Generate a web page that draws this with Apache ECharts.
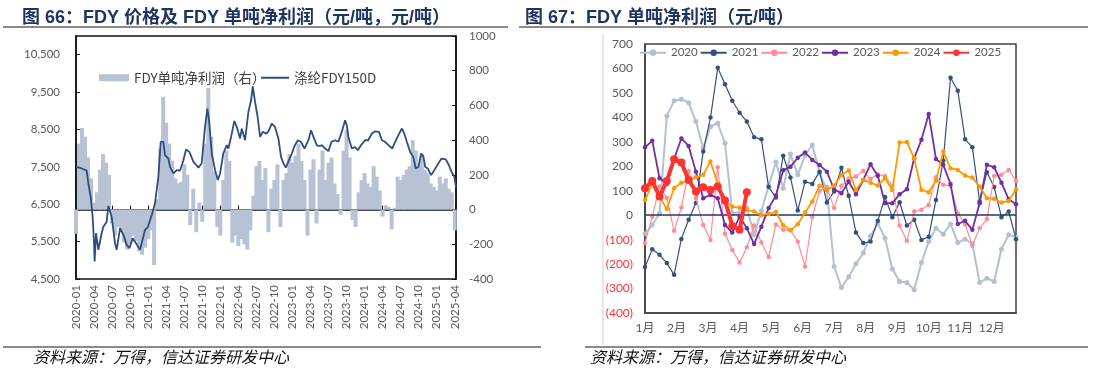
<!DOCTYPE html>
<html><head><meta charset="utf-8">
<script src="https://cdn.jsdelivr.net/npm/echarts@6/dist/echarts.min.js"></script>
<style>html,body{margin:0;padding:0;background:#fff}#c{width:1094px;height:370px}</style>
</head><body><div id="c"></div>
<script>
// ---------- Left chart data (months since 2020-01) ----------
const quarterLabels = ['2020-01','2020-04','2020-07','2020-10','2021-01','2021-04','2021-07','2021-10',
  '2022-01','2022-04','2022-07','2022-10','2023-01','2023-04','2023-07','2023-10',
  '2024-01','2024-04','2024-07','2024-10','2025-01','2025-04'];
const priceT = [0,0.5,0.95,1.78,2.05,2.44,2.77,3.0,3.1,3.33,3.72,4.27,4.55,5.1,5.38,5.93,6.49,6.76,7.32,7.88,
  8.43,8.88,9.43,9.98,10.65,10.93,11.48,11.92,12.6,13.14,13.7,14.09,14.53,14.8,15.36,15.64,16.19,16.75,17.3,17.85,
  18.3,18.85,19.52,20.0,20.35,20.9,21.46,21.85,22.13,22.58,23.13,23.58,23.96,24.5,25.07,25.34,25.79,26.34,26.74,27.29,
  27.57,28.12,28.67,29.12,29.4,29.78,30.17,30.62,31.06,31.73,32.1,32.56,33.1,33.66,34.1,34.5,34.9,35.3,35.9,36.4,
  36.9,37.4,38.0,38.65,39.1,39.5,40.05,40.5,40.9,41.43,41.98,42.5,43.1,43.64,44.2,44.76,45.04,45.3,45.87,46.4,
  46.87,47.4,48.1,48.6,49.2,49.75,50.4,50.87,51.4,51.96,52.6,53.08,53.6,54.2,54.6,55.02,55.57,56.1,56.5,56.95,
  57.4,57.8,58.07,58.5,59.07,59.6,60.3,60.8,61.5,62.0,62.5,62.9,63.2];
const priceV = [7500,7480,7457,7400,7057,6700,6167,5457,4967,5730,5280,5730,5900,6033,6450,6167,5457,5280,5857,5680,
  5413,5325,5590,5457,5280,5236,5812,5880,6212,6524,7233,8167,8167,7812,7723,7500,7323,7412,7400,7670,
  7964,7900,7640,7550,7480,7590,8567,9057,8745,7857,7412,7145,7323,7857,8080,7990,8300,8727,8567,8260,
  8525,8212,8967,9280,9652,9235,8880,8300,8435,8390,8480,8657,8567,8260,7767,7590,7480,7640,7857,8080,
  8212,8170,7990,8212,8480,8300,8080,8050,8080,7990,7920,8170,8212,8170,8435,8745,8610,8300,7990,8030,
  7945,8080,8212,8212,8390,8450,8435,8212,8170,8080,7990,8170,8340,8525,8390,8170,7900,7767,7457,7500,
  7857,7767,7500,7457,7280,7412,7600,7720,7700,7550,7350,7250,6950];
// FDY net profit, half-month steps starting 2020-01
const profitV = [
  -140,380,470,420,300,180,40,100,230,320,270,200,-80,-150,-100,-130,-190,-230,-200,-150,-180,-240,-260,-220,
  -170,-120,-320,60,350,650,500,380,280,180,150,160,260,200,-90,120,-130,40,-70,380,700,420,220,-100,
  -150,170,340,280,-190,-150,-210,-170,-200,-230,-120,80,250,280,170,240,-130,120,170,260,-100,170,210,320,
  270,310,380,280,170,-150,230,290,-80,230,340,170,270,300,150,90,-30,340,460,300,-60,-100,100,170,
  210,150,130,250,190,110,-40,25,15,-115,10,190,170,200,230,250,400,340,250,320,230,210,150,130,
  110,190,150,180,120,100,-120];

// ---------- Right chart data (weekly) ----------
const monthLabels = ['1月','2月','3月','4月','5月','6月','7月','8月','9月','10月','11月','12月'];
const years = ['2020','2021','2022','2023','2024','2025'];
const y2020 = [-76,-40,8,406,468,474,460,383,275,362,376,294,8,10,30,-80,18,120,217,110,250,165,245,287,172,103,
  -210,-296,-253,-199,-155,-85,-33,-94,-220,-271,-275,-305,-194,-108,-53,-78,-36,-112,-98,-117,-275,-258,-271,-139,-80,-90];
const y2021 = [-212,-139,-162,-196,-244,-97,-19,50,260,399,603,535,468,419,383,319,310,115,72,243,154,19,137,128,178,52,
  97,194,79,-71,-114,-108,-23,74,-8,53,-42,-19,-101,-88,62,223,562,509,310,278,56,176,115,-8,15,-98];
const y2022 = [-114,-6,117,70,-64,31,181,69,-40,-101,196,-76,-142,-194,-131,-42,-112,-171,-38,-60,-62,-108,-210,-7,100,115,
  29,120,150,158,181,148,167,160,120,-42,-105,15,22,42,155,124,120,8,-37,-125,-53,-16,160,165,185,141];
const y2023 = [278,304,151,127,230,314,283,178,69,83,69,-40,-71,-6,-53,-118,-47,29,80,184,198,235,256,226,205,178,
  105,90,137,86,144,208,161,49,49,86,106,233,308,414,230,206,128,-36,-23,-60,49,206,196,133,65,45];
const y2024 = [62,128,75,25,110,133,140,155,165,220,128,60,35,30,22,15,1,5,13,-41,-61,-37,11,56,120,103,
  120,164,183,103,144,133,121,151,103,297,299,233,103,94,141,260,192,185,162,154,117,69,67,52,58,106];
const y2025 = [110,140,76,140,229,215,144,97,114,103,117,60,-44,-60,94];

const yearSeries = [y2020,y2021,y2022,y2023,y2024,y2025];
const yearColors = ['#b4c0d2','#34507e','#ff8c96','#7030a0','#ff9900','#ff3333'];
const yearWidths = [2,1.2,1.2,1.8,1.8,4];
const yearSymbols = [5,4.5,4.5,4.5,4.5,8];

const NUM = "Lato, 'Noto Sans CJK SC', sans-serif";
const CJK = "'Noto Sans CJK SC', sans-serif";
const TITLE = "'Liberation Sans', 'Noto Sans CJK SC', sans-serif";

const chart = echarts.init(document.getElementById('c'));

const rightSeries = years.map((name, k) => ({
  name, type: 'line', xAxisIndex: 1, yAxisIndex: 2,
  data: yearSeries[k].map((v, i) => [i, v]),
  symbol: 'circle', symbolSize: yearSymbols[k], showSymbol: true,
  lineStyle: {width: yearWidths[k], color: yearColors[k]},
  itemStyle: {color: yearColors[k]},
  emphasis: {disabled: true},
  z: 2 + k,
  markLine: k === 0 ? {silent: true, symbol: 'none', label: {show: false},
    lineStyle: {color: '#1f3864', width: 1.5, type: 'solid'}, data: [{yAxis: 0}]} : undefined
}));

const option = {
  animation: false,
  title: [
    {text: '图 66：FDY 价格及 FDY 单吨净利润（元/吨，元/吨）', left: 17, top: 4,
      textStyle: {fontFamily: TITLE, fontWeight: 'bold', fontSize: 18, color: '#1f3460'}},
    {text: '图 67：FDY 单吨净利润（元/吨）', left: 520, top: 4,
      textStyle: {fontFamily: TITLE, fontWeight: 'bold', fontSize: 18, color: '#1f3460'}}
  ],
  graphic: [
    {type: 'line', shape: {x1: 3, y1: 27, x2: 508, y2: 27}, style: {stroke: '#8a8a8a', lineWidth: 2}},
    {type: 'line', shape: {x1: 519, y1: 27, x2: 1088, y2: 27}, style: {stroke: '#8a8a8a', lineWidth: 2}},
    {type: 'line', shape: {x1: 3, y1: 347, x2: 541, y2: 347}, style: {stroke: '#8a8a8a', lineWidth: 2}},
    {type: 'line', shape: {x1: 585, y1: 347, x2: 1088, y2: 347}, style: {stroke: '#8a8a8a', lineWidth: 2}},
    {type: 'line', shape: {x1: 603, y1: 33, x2: 603, y2: 345}, style: {stroke: '#d0d0d0', lineWidth: 1}},
    {type: 'text', left: 33, top: 349, style: {text: '资料来源：万得，信达证券研发中心', font: 'italic 16px ' + CJK, fill: '#111'}},
    {type: 'text', left: 590, top: 349, style: {text: '资料来源：万得，信达证券研发中心', font: 'italic 16px ' + CJK, fill: '#111'}}
  ],
  legend: [
    {left: 94, top: 66, itemWidth: 30, itemHeight: 7, itemGap: 6,
      data: [{name: 'FDY单吨净利润（右）', icon: 'rect'}],
      textStyle: {fontFamily: CJK, fontSize: 13.5, color: '#404040'}},
    {left: 256, top: 66, itemWidth: 28, itemHeight: 2, itemGap: 6,
      data: [{name: '涤纶FDY150D', icon: 'rect'}],
      textStyle: {fontFamily: CJK, fontSize: 13.5, color: '#404040'}},
    {left: 634, top: 42, itemWidth: 26, itemHeight: 8, itemGap: 2,
      data: years, textStyle: {fontFamily: NUM, fontSize: 11.5, color: '#595959'}}
  ],
  grid: [
    {left: 76, top: 36, width: 380, height: 243, show: true, borderColor: '#111', borderWidth: 1.5, backgroundColor: 'transparent'},
    {left: 645, top: 44, width: 371, height: 269, show: true, borderColor: '#404040', borderWidth: 1.5, backgroundColor: 'transparent'}
  ],
  xAxis: [
    {type: 'value', gridIndex: 0, min: 0, max: 63.2,
      axisLine: {show: true, lineStyle: {color: '#111', width: 1.5}},
      axisTick: {show: true, inside: true, length: 4, lineStyle: {color: '#111'},
        customValues: quarterLabels.map((_, i) => i * 3)},
      axisLabel: {rotate: 90, margin: 6, fontFamily: NUM, fontSize: 11.5, color: '#595959',
        customValues: quarterLabels.map((_, i) => i * 3),
        formatter: v => quarterLabels[Math.round(v / 3)] || ''},
      splitLine: {show: false}},
    {type: 'value', gridIndex: 1, min: 0, max: 51,
      axisLine: {show: true, onZero: false, lineStyle: {color: '#404040', width: 1.5}},
      axisTick: {show: false},
      axisLabel: {margin: 9, fontFamily: NUM, fontSize: 12, color: '#595959',
        customValues: monthLabels.map((_, i) => i * 52 / 12),
        formatter: v => monthLabels[Math.round(v * 12 / 52)] || ''},
      splitLine: {show: false}}
  ],
  yAxis: [
    {type: 'value', gridIndex: 0, min: 4500, max: 11000, position: 'left',
      axisLine: {show: true, lineStyle: {color: '#111', width: 1.5}},
      axisTick: {show: true, inside: true, length: 4, lineStyle: {color: '#111'},
        customValues: [4500,5500,6500,7500,8500,9500,10500]},
      axisLabel: {margin: 16, fontFamily: NUM, fontSize: 11.5, color: '#595959',
        customValues: [4500,5500,6500,7500,8500,9500,10500],
        formatter: v => Number(v).toLocaleString('en-US')},
      splitLine: {show: false}},
    {type: 'value', gridIndex: 0, min: -400, max: 1000, interval: 200, position: 'right',
      axisLine: {show: true, lineStyle: {color: '#111', width: 1.5}},
      axisTick: {show: true, inside: true, length: 4, lineStyle: {color: '#111'}},
      axisLabel: {margin: 13, fontFamily: NUM, fontSize: 11.5, color: '#595959',
        formatter: v => String(v)},
      splitLine: {show: false}},
    {type: 'value', gridIndex: 1, min: -400, max: 700, interval: 100,
      axisLine: {show: true, lineStyle: {color: '#404040', width: 1.5}},
      axisTick: {show: false},
      axisLabel: {margin: 12, fontFamily: NUM, fontSize: 12,
        color: v => Number(v) < 0 ? '#ff3333' : '#595959',
        formatter: v => Number(v) < 0 ? '(' + Math.abs(v) + ')' : String(v)},
      splitLine: {show: false}}
  ],
  series: [
    {name: 'FDY单吨净利润（右）', type: 'bar', xAxisIndex: 0, yAxisIndex: 1,
      data: profitV.map((v, i) => [i * 0.5, v]), barWidth: 4,
      itemStyle: {color: '#b7c2d4'}, emphasis: {disabled: true}, z: 1},
    {name: '涤纶FDY150D', type: 'line', xAxisIndex: 0, yAxisIndex: 0,
      data: priceT.map((t, i) => [t, priceV[i]]), symbol: 'none',
      lineStyle: {width: 1.8, color: '#2f4d7e'}, itemStyle: {color: '#2f4d7e'},
      emphasis: {disabled: true}, z: 3},
    ...rightSeries
  ]
};
chart.setOption(option);
</script></body></html>
